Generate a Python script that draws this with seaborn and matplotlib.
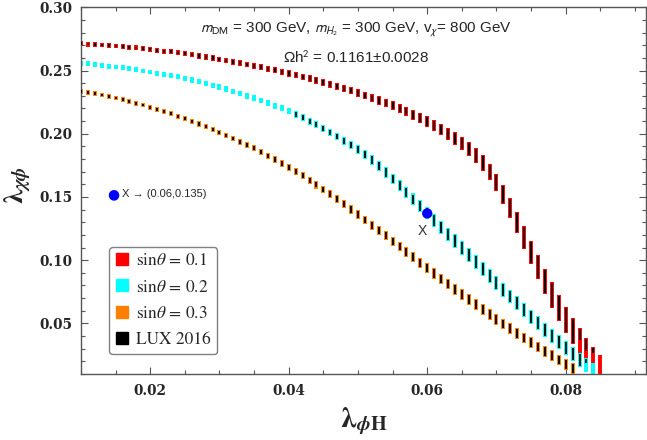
import numpy as np
import matplotlib
matplotlib.use("Agg")
import matplotlib.pyplot as plt
from matplotlib.lines import Line2D
from matplotlib.ticker import MultipleLocator
import seaborn as sns

#-Scan grid in lambda_phiH
lam_phiH = [0.010, 0.011, 0.012, 0.013, 0.014, 0.015, 0.016, 0.017, 0.018, 0.019,
            0.020, 0.021, 0.022, 0.023, 0.024, 0.025, 0.026, 0.027, 0.028, 0.029,
            0.030, 0.031, 0.032, 0.033, 0.034, 0.035, 0.036, 0.037, 0.038, 0.039,
            0.040, 0.041, 0.042, 0.043, 0.044, 0.045, 0.046, 0.047, 0.048, 0.049,
            0.050, 0.051, 0.052, 0.053, 0.054, 0.055, 0.056, 0.057, 0.058, 0.059,
            0.060, 0.061, 0.062, 0.063, 0.064, 0.065, 0.066, 0.067, 0.068, 0.069,
            0.070, 0.071, 0.072, 0.073, 0.074, 0.075, 0.076, 0.077, 0.078, 0.079,
            0.080, 0.081, 0.082, 0.083, 0.084, 0.085]

#-sin(theta) = 0.1 : band centre and height in lambda_chiphi
red_mid = [0.2712, 0.2709, 0.2706, 0.2702, 0.2698, 0.2694, 0.2689, 0.2684, 0.2679, 0.2673,
           0.2667, 0.2661, 0.2654, 0.2647, 0.2640, 0.2632, 0.2624, 0.2616, 0.2607, 0.2598,
           0.2589, 0.2579, 0.2569, 0.2559, 0.2548, 0.2537, 0.2526, 0.2514, 0.2502, 0.2490,
           0.2477, 0.2464, 0.2450, 0.2436, 0.2421, 0.2406, 0.2390, 0.2374, 0.2357, 0.2340,
           0.2322, 0.2303, 0.2284, 0.2264, 0.2243, 0.2221, 0.2198, 0.2174, 0.2149, 0.2123,
           0.2095, 0.2066, 0.2035, 0.1998, 0.1962, 0.1923, 0.1878, 0.1828, 0.1768, 0.1697,
           0.1614, 0.1520, 0.1415, 0.1300, 0.1180, 0.1060, 0.0945, 0.0833, 0.0727, 0.0625,
           0.0530, 0.0440, 0.0360, 0.0285, 0.0215, 0.0150]
red_h = [0.0038, 0.0038, 0.0038, 0.0038, 0.0038, 0.0038, 0.0038, 0.0038, 0.0038, 0.0038,
         0.0038, 0.0039, 0.0039, 0.0040, 0.0040, 0.0041, 0.0041, 0.0042, 0.0042, 0.0043,
         0.0043, 0.0044, 0.0044, 0.0045, 0.0045, 0.0046, 0.0046, 0.0047, 0.0047, 0.0048,
         0.0049, 0.0050, 0.0051, 0.0052, 0.0053, 0.0054, 0.0055, 0.0056, 0.0057, 0.0058,
         0.0060, 0.0062, 0.0064, 0.0066, 0.0068, 0.0070, 0.0072, 0.0075, 0.0078, 0.0081,
         0.0084, 0.0087, 0.0090, 0.0094, 0.0098, 0.0103, 0.0108, 0.0114, 0.0121, 0.0129,
         0.0138, 0.0148, 0.0158, 0.0168, 0.0178, 0.0188, 0.0195, 0.0200, 0.0203, 0.0205,
         0.0206, 0.0206, 0.0205, 0.0204, 0.0203, 0.0202]

#-sin(theta) = 0.2
cyan_mid = [0.2558, 0.2553, 0.2547, 0.2541, 0.2535, 0.2528, 0.2521, 0.2513, 0.2505, 0.2497,
            0.2488, 0.2479, 0.2470, 0.2460, 0.2450, 0.2438, 0.2425, 0.2412, 0.2398, 0.2383,
            0.2368, 0.2352, 0.2335, 0.2318, 0.2300, 0.2282, 0.2263, 0.2243, 0.2222, 0.2201,
            0.2178, 0.2153, 0.2127, 0.2099, 0.2070, 0.2040, 0.2009, 0.1977, 0.1944, 0.1910,
            0.1875, 0.1835, 0.1791, 0.1744, 0.1694, 0.1642, 0.1589, 0.1535, 0.1481, 0.1426,
            0.1371, 0.1316, 0.1261, 0.1206, 0.1151, 0.1096, 0.1041, 0.0986, 0.0931, 0.0876,
            0.0821, 0.0767, 0.0713, 0.0659, 0.0606, 0.0553, 0.0501, 0.0450, 0.0400, 0.0351,
            0.0303, 0.0257, 0.0213, 0.0171, 0.0131]
cyan_h = [0.0038, 0.0038, 0.0038, 0.0038, 0.0038, 0.0038, 0.0038, 0.0038, 0.0038, 0.0038,
          0.0038, 0.0039, 0.0039, 0.0040, 0.0040, 0.0041, 0.0041, 0.0042, 0.0042, 0.0043,
          0.0043, 0.0044, 0.0044, 0.0045, 0.0045, 0.0046, 0.0046, 0.0047, 0.0047, 0.0048,
          0.0049, 0.0050, 0.0051, 0.0052, 0.0054, 0.0056, 0.0058, 0.0060, 0.0063, 0.0066,
          0.0069, 0.0072, 0.0075, 0.0078, 0.0081, 0.0084, 0.0087, 0.0090, 0.0093, 0.0096,
          0.0098, 0.0100, 0.0102, 0.0104, 0.0105, 0.0106, 0.0107, 0.0108, 0.0109, 0.0110,
          0.0110, 0.0110, 0.0110, 0.0110, 0.0110, 0.0110, 0.0110, 0.0110, 0.0110, 0.0110,
          0.0110, 0.0110, 0.0110, 0.0110, 0.0110]

#-sin(theta) = 0.3
orange_mid = [0.2336, 0.2327, 0.2317, 0.2306, 0.2295, 0.2283, 0.2270, 0.2256, 0.2242, 0.2227,
              0.2211, 0.2194, 0.2176, 0.2158, 0.2139, 0.2119, 0.2099, 0.2078, 0.2056, 0.2034,
              0.2011, 0.1987, 0.1962, 0.1937, 0.1911, 0.1884, 0.1856, 0.1827, 0.1797, 0.1766,
              0.1734, 0.1701, 0.1667, 0.1632, 0.1596, 0.1559, 0.1521, 0.1482, 0.1442, 0.1401,
              0.1360, 0.1318, 0.1276, 0.1234, 0.1192, 0.1150, 0.1108, 0.1066, 0.1024, 0.0981,
              0.0938, 0.0895, 0.0853, 0.0811, 0.0770, 0.0729, 0.0689, 0.0649, 0.0610, 0.0571,
              0.0533, 0.0495, 0.0458, 0.0421, 0.0385, 0.0349, 0.0314, 0.0279, 0.0245, 0.0211,
              0.0178, 0.0145]
orange_h = [0.0038, 0.0038, 0.0038, 0.0038, 0.0038, 0.0038, 0.0038, 0.0038, 0.0038, 0.0038,
            0.0039, 0.0039, 0.0040, 0.0040, 0.0041, 0.0041, 0.0042, 0.0042, 0.0043, 0.0043,
            0.0044, 0.0045, 0.0045, 0.0046, 0.0047, 0.0048, 0.0048, 0.0049, 0.0050, 0.0051,
            0.0052, 0.0053, 0.0055, 0.0056, 0.0058, 0.0059, 0.0061, 0.0062, 0.0064, 0.0065,
            0.0067, 0.0068, 0.0070, 0.0071, 0.0072, 0.0073, 0.0075, 0.0076, 0.0077, 0.0078,
            0.0080, 0.0081, 0.0082, 0.0082, 0.0083, 0.0083, 0.0084, 0.0084, 0.0085, 0.0085,
            0.0086, 0.0086, 0.0086, 0.0086, 0.0086, 0.0086, 0.0086, 0.0086, 0.0086, 0.0086,
            0.0087, 0.0087]

#-LUX 2016 excluded part (black core): x range, and partial floors near the end
red_lux = (0.010, 0.084)
red_lux_floor_x = [0.082, 0.083, 0.084]
red_lux_floor_y = [0.037, 0.028, 0.027]
cyan_lux = (0.041, 0.083)
cyan_lux_floor_x = [0.083]
cyan_lux_floor_y = [0.019]
orange_lux = (0.010, 0.081)

#-Benchmark point X
bench_x = [0.060]
bench_y = [0.137]

legend_labels = [r"sin$\theta$ = 0.1", r"sin$\theta$ = 0.2", r"sin$\theta$ = 0.3", "LUX 2016"]
legend_colors = ["#ff0000", "#00ffff", "#ff8000", "#000000"]
xtick_vals = [0.02, 0.04, 0.06, 0.08]
xtick_labels = ["0.02", "0.04", "0.06", "0.08"]
ytick_vals = [0.05, 0.10, 0.15, 0.20, 0.25, 0.30]
ytick_labels = ["0.05", "0.10", "0.15", "0.20", "0.25", "0.30"]

sns.set_theme(style="ticks")
plt.rcParams["font.family"] = ["Liberation Sans", "DejaVu Sans"]
plt.rcParams["mathtext.fontset"] = "stix"

fig = plt.figure(figsize=(6.47, 4.40), dpi=100)
ax = fig.add_axes([0.1252, 0.15, 0.8733, 0.8334])

BAR_LW = 2.8
CORE_LW = 1.3
INSET = 0.0008


def draw_band(mid, h, color, lux, floor_x=(), floor_y=()):
    xs = np.asarray(lam_phiH[:len(mid)])
    mid = np.asarray(mid)
    h = np.asarray(h)
    lo, hi = mid - h / 2, mid + h / 2
    ax.vlines(xs, lo, hi, colors=color, lw=BAR_LW, zorder=2)
    floor = np.full_like(mid, -1.0)
    for fx, fy in zip(floor_x, floor_y):
        floor[np.isclose(xs, fx)] = fy
    blo = np.maximum(lo + INSET, floor)
    bhi = hi - INSET
    m = (xs >= lux[0] - 1e-9) & (xs <= lux[1] + 1e-9) & (bhi > blo)
    ax.vlines(xs[m], blo[m], bhi[m], colors="black", lw=CORE_LW, zorder=3)


draw_band(red_mid, red_h, legend_colors[0], red_lux, red_lux_floor_x, red_lux_floor_y)
draw_band(cyan_mid, cyan_h, legend_colors[1], cyan_lux, cyan_lux_floor_x, cyan_lux_floor_y)
draw_band(orange_mid, orange_h, legend_colors[2], orange_lux)

sns.scatterplot(x=bench_x, y=bench_y, color="#0000ff", s=55, edgecolor="none",
                ax=ax, zorder=5, legend=False)
ax.annotate("X", (bench_x[0], bench_y[0]), xytext=(-3.5, -13), textcoords="offset points",
            ha="center", va="center", fontsize=10, color="#333333")

#-Axes
ax.set_xlim(0.01, 0.0916)
ax.set_ylim(0.01, 0.30)
ax.set_xticks(xtick_vals)
ax.set_xticklabels(xtick_labels, fontfamily="DejaVu Serif", fontweight="bold", fontsize=9.8)
ax.set_yticks(ytick_vals)
ax.set_yticklabels(ytick_labels, fontfamily="DejaVu Serif", fontweight="bold", fontsize=9.8)
ax.xaxis.set_minor_locator(MultipleLocator(0.005))
ax.yaxis.set_minor_locator(MultipleLocator(0.01))
ax.tick_params(which="both", direction="in", top=True, right=True, color="#555555", width=0.8)
ax.tick_params(which="major", length=5)
ax.tick_params(which="minor", length=3)
ax.tick_params(axis="x", pad=7)
ax.tick_params(axis="y", pad=6)
for sp in ax.spines.values():
    sp.set_color("#555555")
    sp.set_linewidth(1.0)

ax.set_xlabel(r"$\boldsymbol{\lambda}_{\boldsymbol{\phi}\mathbf{H}}$", fontsize=21)
ax.set_ylabel(r"$\boldsymbol{\lambda}_{\boldsymbol{\chi\phi}}$", fontsize=20)
ax.xaxis.set_label_coords(0.5, -0.128)
ax.xaxis.label.set_va("center")
ax.yaxis.set_label_coords(-0.112, 0.515)
ax.yaxis.label.set_va("center")

#-Annotations
ax.text(0.486, 0.938, r"$m_{\mathrm{DM}}$ = 300 GeV, $m_{H_2}$ = 300 GeV, v$_{\chi}$= 800 GeV",
        transform=ax.transAxes, ha="center", va="center", fontsize=11,
        math_fontfamily="stixsans")
ax.text(0.486, 0.862, r"$\Omega$h$^2$ = 0.1161±0.0028",
        transform=ax.transAxes, ha="center", va="center", fontsize=11,
        math_fontfamily="stixsans")
ax.text(0.0565, 0.49, "●", transform=ax.transAxes, ha="center", va="center",
        fontsize=10, color="#0000ff", family=["DejaVu Sans"])
ax.text(0.073, 0.49, "X → (0.06,0.135)", transform=ax.transAxes, ha="left", va="center",
        fontsize=8)

handles = [Line2D([], [], marker="s", ls="none", markersize=8,
                  markerfacecolor=c, markeredgecolor=c) for c in legend_colors]
leg = ax.legend(handles, legend_labels, loc="upper left", bbox_to_anchor=(0.05, 0.346),
                borderaxespad=0, frameon=True, fancybox=True, framealpha=1,
                edgecolor="#808080", prop={"family": "STIXGeneral", "size": 12.5},
                handlelength=0.8, handletextpad=0.4, labelspacing=0.58, borderpad=0.35)
leg.get_frame().set_linewidth(1.0)

fig.savefig("out.png", dpi=100)
